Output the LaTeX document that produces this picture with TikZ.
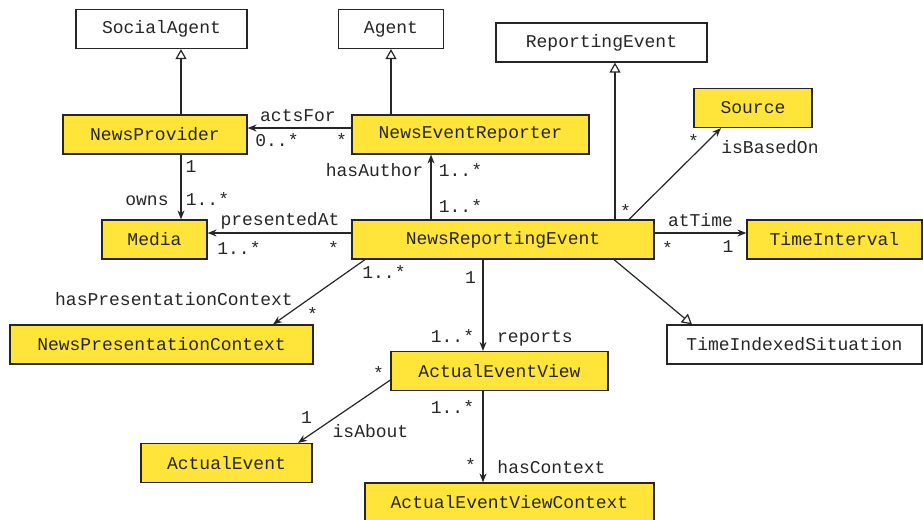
\documentclass[tikz,border=0pt]{standalone}
\usepackage{fontspec}
\setmonofont{Liberation Mono}
\usetikzlibrary{arrows.meta}
\definecolor{myyellow}{RGB}{255, 228, 58}

\begin{document}
\begin{tikzpicture}[
            x=0.5pt, y=-0.5pt,
            every node/.style={font=\ttfamily\fontsize{9}{10}\selectfont, text=black!85},
            cls/.style={
                rectangle,
                draw=black!85,
                fill=#1,
                line width=0.6pt,
                minimum height=19.5pt,
                inner sep=0pt
            },
            cls/.default=white,
            lbl/.style={anchor=base, inner sep=0pt},
            assoc/.style={-{Stealth[length=4.5pt, width=3.5pt]}, line width=0.6pt, draw=black!85},
            isa/.style={-{Triangle[open, length=5pt, width=5.5pt, fill=white]}, line width=0.6pt, draw=black!85}
        ]
            \useasboundingbox (0,0) rectangle (923,520);

            % Nodes
            \node[cls, minimum width=85.5pt] (socialagent) at (161.5,29) {SocialAgent};
            \node[cls, minimum width=52.5pt] (agent) at (391,29) {Agent};
            \node[cls, minimum width=105.5pt] (reportingevent) at (601.5,42.5) {ReportingEvent};
            \node[cls=myyellow, minimum width=92pt] (newsprovider) at (155,134.5) {NewsProvider};
            \node[cls=myyellow, minimum width=118.5pt] (reporter) at (470.5,134.5) {NewsEventReporter};
            \node[cls=myyellow, minimum width=59pt] (source) at (753,108) {Source};
            \node[cls=myyellow, minimum width=52.5pt] (media) at (154.5,239.5) {Media};
            \node[cls=myyellow, minimum width=151pt] (nre) at (503,239.5) {NewsReportingEvent};
            \node[cls=myyellow, minimum width=87.5pt] (timeinterval) at (834.5,239.5) {TimeInterval};
            \node[cls=myyellow, minimum width=151.5pt] (npc) at (161.5,344.5) {NewsPresentationContext};
            \node[cls, minimum width=127.5pt] (tis) at (794.5,344.5) {TimeIndexedSituation};
            \node[cls=myyellow, minimum width=108.5pt] (aev) at (499.5,371) {ActualEventView};
            \node[cls=myyellow, minimum width=85.5pt] (actualevent) at (226.5,463) {ActualEvent};
            \node[cls=myyellow, minimum width=144.5pt] (aevc) at (509.5,502.5) {ActualEventViewContext};

            % Generalisations
            \draw[isa] ([xshift=13pt]newsprovider.north) -- ([xshift=9.75pt]socialagent.south);
            \draw[isa] ([xshift=-39.75pt]reporter.north) -- (agent.south);
            \draw[isa] ([xshift=56pt]nre.north) -- ([xshift=6.75pt]reportingevent.south);
            \draw[isa] ([xshift=55.5pt]nre.south) -- ([xshift=-51.25pt]tis.north);

            % Associations
            \draw[assoc] ([yshift=3.25pt]reporter.west) -- ([yshift=3.25pt]newsprovider.east)
                node[lbl] at (298,121) {actsFor}
                node[lbl] at (277,146) {0..*}
                node[lbl] at (341.5,146) {*};
            \draw[assoc] ([xshift=13pt]newsprovider.south) -- ([xshift=13.25pt]media.north)
                node[lbl] at (191,172) {1}
                node[lbl] at (147,205) {owns}
                node[lbl] at (207.5,205) {1..*};
            \draw[assoc] ([xshift=-36pt]nre.north) -- ([xshift=-19.75pt]reporter.south)
                node[lbl] at (374.5,176) {hasAuthor}
                node[lbl] at (460.5,176) {1..*}
                node[lbl] at (460.5,212) {1..*};
            \draw[assoc] ([yshift=3.25pt]nre.west) -- ([yshift=3.25pt]media.east)
                node[lbl] at (280,225) {presentedAt}
                node[lbl] at (239,254) {1..*}
                node[lbl] at (333.5,254) {*};
            \draw[assoc] ([xshift=63pt]nre.north) -- ([xshift=-16pt]source.south)
                node[lbl] at (693.5,147) {*}
                node[lbl] at (770,153) {isBasedOn}
                node[lbl] at (625.5,217) {*};
            \draw[assoc] ([yshift=3.25pt]nre.east) -- ([yshift=3.25pt]timeinterval.west)
                node[lbl] at (700.5,226) {atTime}
                node[lbl] at (667.5,254) {*}
                node[lbl] at (728,252) {1};
            \draw[assoc] ([xshift=-69pt]nre.south) -- ([xshift=55.75pt]npc.north)
                node[lbl] at (384,278) {1..*}
                node[lbl] at (174,305) {hasPresentationContext}
                node[lbl] at (312.5,320) {*};
            \draw[assoc] ([xshift=-10pt]nre.south) -- ([xshift=-8.25pt]aev.north)
                node[lbl] at (470.5,283) {1}
                node[lbl] at (452.5,342) {1..*}
                node[lbl] at (535,342) {reports};
            \draw[assoc] ([yshift=-4.5pt]aev.west) -- ([xshift=35.75pt]actualevent.north)
                node[lbl] at (378.5,379) {*}
                node[lbl] at (306.5,423) {1}
                node[lbl] at (370.5,437) {isAbout};
            \draw[assoc] ([xshift=-8.25pt]aev.south) -- ([xshift=-13.25pt]aevc.north)
                node[lbl] at (452.5,413) {1..*}
                node[lbl] at (470.5,471) {*}
                node[lbl] at (551.5,473) {hasContext};
        \end{tikzpicture}
\end{document}
